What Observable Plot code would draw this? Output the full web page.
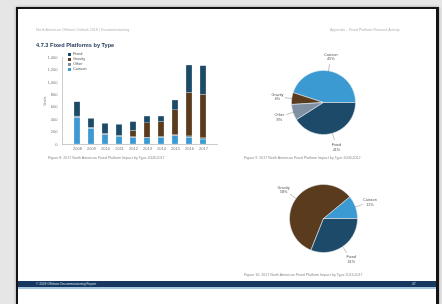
<!DOCTYPE html>
<html><head><meta charset="utf-8">
<script src="https://cdn.jsdelivr.net/npm/d3@7"></script>
<script src="https://cdn.jsdelivr.net/npm/@observablehq/plot@0.6"></script>
<style>
html,body{margin:0;padding:0;}
body{width:442px;height:304px;overflow:hidden;background:#e6e6e6;position:relative;font-family:"Liberation Sans",Arial,sans-serif;}
#wrap{position:absolute;left:0;top:0;width:442px;height:304px;filter:blur(0.45px);}
#page{position:absolute;left:16px;top:7px;width:418px;height:310px;background:#fff;border:2px solid #141414;border-right-width:3px;box-shadow:0 0 3px rgba(0,0,0,0.3);}
.abs{position:absolute;white-space:nowrap;}
.tiny{font-size:3.6px;color:#8a8a8a;}
.title{font-size:5.6px;font-weight:bold;color:#23395a;}
.leg{font-size:3.8px;color:#555;line-height:5px;}
.sw{display:inline-block;width:3px;height:3px;margin-right:2px;vertical-align:middle;}
#band{position:absolute;left:18px;top:281px;width:418px;height:6px;background:#173760;}
#band2{position:absolute;left:18px;top:287px;width:418px;height:1.5px;background:#a9c6e0;}
svg{overflow:visible;}
</style></head><body>
<div id="wrap">
<div id="page"></div>
<div class="abs tiny" style="left:36px;top:28px;color:#b0b0b0">North American Offshore Outlook 2018 | Decommissioning</div>
<div class="abs tiny" style="left:330px;top:28px;color:#b0b0b0">Appendix – Fixed Platform Removal Activity</div>
<div class="abs title" style="left:36px;top:42px">4.7.3 Fixed Platforms by Type</div>
<div id="bar" class="abs" style="left:28px;top:48px"></div>
<div id="legend" class="abs leg" style="left:68px;top:52px"></div>
<div class="abs tiny" style="left:48px;top:156px">Figure 8: 2017 North American Fixed Platform Impact by Type 2008-2017</div>
<div id="pie1" class="abs" style="left:253px;top:47px"></div>
<div class="abs tiny" style="left:244px;top:156px">Figure 9: 2017 North American Fixed Platform Impact by Type 2008-2012</div>
<div id="pie2" class="abs" style="left:253px;top:163px"></div>
<div class="abs tiny" style="left:244px;top:273px">Figure 10: 2017 North American Fixed Platform Impact by Type 2013-2017</div>
<div id="band"></div><div id="band2"></div>
<div class="abs tiny" style="left:36px;top:282px;color:#dfe6ee;font-size:3.2px">© 2018 Offshore Decommissioning Report</div>
<div class="abs tiny" style="left:412px;top:282px;color:#dfe6ee;font-size:3.2px">47</div>
</div>
<script>
// ---- data ----
const years = ["2008","2009","2010","2011","2012","2013","2014","2015","2016","2017"];
const types = ["Caisson","Other","Gravity","Fixed"];           // stack order, bottom to top
const typeColors = ["#3c9ad2","#7f90a3","#5a3b1d","#1d4a68"];
const caisson = [430,252,150,118,108,100,110,135,110,80];
const other   = [20,15,20,20,10,10,10,15,20,20];
const gravity = [0,0,0,0,100,230,240,400,700,700];
const fixed   = [230,146,163,179,142,110,90,158,441,460];
const yTicks  = [0,200,400,600,800,1000,1200,1400];

const pie1Names  = ["Caisson","Gravity","Other","Fixed"];
const pie1Values = [45,6,8,41];
const pie1Colors = ["#3c9ad2","#5a3b1d","#7f90a3","#1d4a68"];
const pie2Names  = ["Caisson","Gravity","Fixed"];
const pie2Values = [11,58,31];
const pie2Colors = ["#3c9ad2","#5a3b1d","#1d4a68"];

// ---- bar chart ----
const seriesVals = [caisson, other, gravity, fixed];
const table = years.flatMap((y,i)=>types.map((t,j)=>({year:y,type:t,value:seriesVals[j][i]})));

const bar = Plot.plot({
  width:195, height:110, marginTop:9, marginBottom:14, marginLeft:34, marginRight:5,
  style:{background:"transparent", fontSize:"4px", fontFamily:"Liberation Sans, Arial, sans-serif", color:"#777"},
  x:{domain:years, padding:0.55, label:null, tickSize:0, tickPadding:3},
  y:{domain:[0,1400], ticks:yTicks, tickFormat:d3.format(","), tickSize:0, tickPadding:5,
     label:"Units", labelAnchor:"center", labelOffset:19, labelArrow:false},
  color:{domain:types, range:typeColors},
  marks:[
    Plot.barY(table,{x:"year", y:"value", fill:"type", stroke:"#ffffff", strokeWidth:0.25}),
    Plot.ruleY([0],{stroke:"#aaa", strokeWidth:0.6}),
    Plot.frame({anchor:"left", stroke:"#aaa", strokeWidth:0.6})
  ]
});
document.getElementById("bar").appendChild(bar);

// legend (top to bottom)
const legEl = document.getElementById("legend");
[...types].reverse().forEach(t=>{
  const c = typeColors[types.indexOf(t)];
  const row = document.createElement("div");
  row.innerHTML = `<span class="sw" style="background:${c}"></span>${t}`;
  legEl.appendChild(row);
});

// ---- pies ----
function piePlot(names, values, colors, r) {
  const total = d3.sum(values);
  let a0 = 0;
  const pts = [], labels = [];
  names.forEach((n,i)=>{
    const a1 = a0 + values[i]/total*2*Math.PI;
    const steps = Math.max(3, Math.ceil((a1-a0)/(Math.PI/120)));
    pts.push({name:n,x:0,y:0});
    for (let k=0;k<=steps;k++){const a=a0+(a1-a0)*k/steps; pts.push({name:n,x:Math.cos(a),y:Math.sin(a)});}
    pts.push({name:n,x:0,y:0});
    const m=(a0+a1)/2;
    labels.push({name:n, text:`${n}\n${values[i]}%`, c:Math.cos(m), s:Math.sin(m)});
    a0=a1;
  });
  const W=140,H=110;
  return Plot.plot({
    width:W, height:H,
    marginLeft:W/2-r, marginRight:W/2-r, marginTop:H/2-r, marginBottom:H/2-r,
    style:{background:"transparent", fontSize:"3.8px", fontFamily:"Liberation Sans, Arial, sans-serif", color:"#555"},
    x:{domain:[-1,1], axis:null}, y:{domain:[-1,1], axis:null},
    color:{domain:names, range:colors},
    marks:[
      Plot.line(pts,{x:"x", y:"y", z:"name", fill:"name", stroke:"#e6eef4", strokeWidth:0.6, curve:"linear"}),
      Plot.link(labels,{x1:d=>d.c*0.97, y1:d=>d.s*0.97, x2:d=>d.c*1.22, y2:d=>d.s*1.22, stroke:"#666", strokeWidth:0.4}),
      Plot.text(labels,{x:d=>d.c*1.45, y:d=>d.s*1.45, text:"text", fill:"#555", lineHeight:1.2})
    ]
  });
}
document.getElementById("pie1").appendChild(piePlot(pie1Names, pie1Values, pie1Colors, 32));
document.getElementById("pie2").appendChild(piePlot(pie2Names, pie2Values, pie2Colors, 34));
</script>
</body></html>
